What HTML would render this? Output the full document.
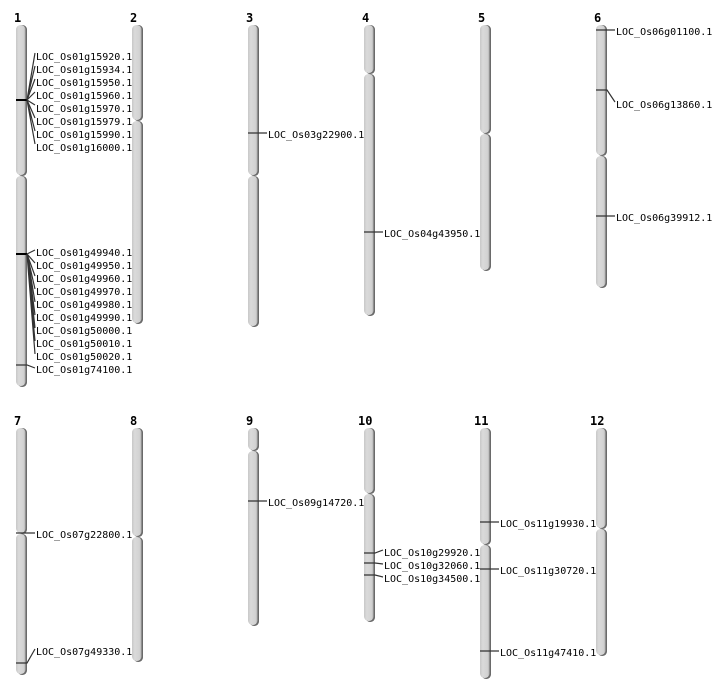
<!DOCTYPE html>
<html><head><meta charset="utf-8"><style>
html,body{margin:0;padding:0;background:#fff;}
svg{display:block;}
text{font-family:"DejaVu Sans Mono","Liberation Mono",monospace;font-size:10px;fill:#000;}
.n{font-family:"DejaVu Sans Mono",monospace;font-weight:bold;font-size:12px;}
.s{fill:#6a6a6a;}
.a{fill:url(#g);}
.m{stroke:#333;stroke-width:1.2;fill:none;}
.k{stroke:#000;stroke-width:2;fill:none;}
</style></head><body>
<svg width="712" height="700" viewBox="0 0 712 700" xmlns="http://www.w3.org/2000/svg">
<defs><linearGradient id="g" x1="0" x2="1" y1="0" y2="0">
<stop offset="0" stop-color="#c8c8c8"/><stop offset="0.3" stop-color="#dadada"/><stop offset="0.8" stop-color="#d2d2d2"/><stop offset="1" stop-color="#b0b0b0"/></linearGradient></defs>

<!-- numbers -->
<text class="n" x="14" y="22">1</text><text class="n" x="130" y="22">2</text><text class="n" x="246" y="22">3</text>
<text class="n" x="362" y="22">4</text><text class="n" x="478" y="22">5</text><text class="n" x="594" y="22">6</text>
<text class="n" x="14" y="425">7</text><text class="n" x="130" y="425">8</text><text class="n" x="246" y="425">9</text>
<text class="n" x="358" y="425">10</text><text class="n" x="474" y="425">11</text><text class="n" x="590" y="425">12</text>

<!-- chromosomes: shadow + arm -->
<g>
<!-- 1 -->
<rect class="s" x="17.5" y="25" width="9.5" height="151" rx="4.5"/><rect class="a" x="16" y="25" width="9.5" height="150" rx="4.5"/>
<rect class="s" x="17.5" y="176" width="9.5" height="211" rx="4.5"/><rect class="a" x="16" y="176" width="9.5" height="210" rx="4.5"/>
<!-- 2 -->
<rect class="s" x="133.5" y="25" width="9.5" height="96" rx="4.5"/><rect class="a" x="132" y="25" width="9.5" height="95" rx="4.5"/>
<rect class="s" x="133.5" y="121" width="9.5" height="203" rx="4.5"/><rect class="a" x="132" y="121" width="9.5" height="202" rx="4.5"/>
<!-- 3 -->
<rect class="s" x="249.5" y="25" width="9.5" height="151" rx="4.5"/><rect class="a" x="248" y="25" width="9.5" height="150" rx="4.5"/>
<rect class="s" x="249.5" y="176" width="9.5" height="151" rx="4.5"/><rect class="a" x="248" y="176" width="9.5" height="150" rx="4.5"/>
<!-- 4 -->
<rect class="s" x="365.5" y="25" width="9.5" height="49" rx="4.5"/><rect class="a" x="364" y="25" width="9.5" height="48" rx="4.5"/>
<rect class="s" x="365.5" y="74" width="9.5" height="242" rx="4.5"/><rect class="a" x="364" y="74" width="9.5" height="241" rx="4.5"/>
<!-- 5 -->
<rect class="s" x="481.5" y="25" width="9.5" height="109" rx="4.5"/><rect class="a" x="480" y="25" width="9.5" height="108" rx="4.5"/>
<rect class="s" x="481.5" y="134" width="9.5" height="137" rx="4.5"/><rect class="a" x="480" y="134" width="9.5" height="136" rx="4.5"/>
<!-- 6 -->
<rect class="s" x="597.5" y="25" width="9.5" height="131" rx="4.5"/><rect class="a" x="596" y="25" width="9.5" height="130" rx="4.5"/>
<rect class="s" x="597.5" y="156" width="9.5" height="132" rx="4.5"/><rect class="a" x="596" y="156" width="9.5" height="131" rx="4.5"/>
<!-- 7 -->
<rect class="s" x="17.5" y="428" width="9.5" height="106" rx="4.5"/><rect class="a" x="16" y="428" width="9.5" height="105" rx="4.5"/>
<rect class="s" x="17.5" y="534" width="9.5" height="141" rx="4.5"/><rect class="a" x="16" y="534" width="9.5" height="140" rx="4.5"/>
<!-- 8 -->
<rect class="s" x="133.5" y="428" width="9.5" height="109" rx="4.5"/><rect class="a" x="132" y="428" width="9.5" height="108" rx="4.5"/>
<rect class="s" x="133.5" y="537" width="9.5" height="125" rx="4.5"/><rect class="a" x="132" y="537" width="9.5" height="124" rx="4.5"/>
<!-- 9 -->
<rect class="s" x="249.5" y="428" width="9.5" height="23" rx="4.5"/><rect class="a" x="248" y="428" width="9.5" height="22" rx="4.5"/>
<rect class="s" x="249.5" y="451" width="9.5" height="175" rx="4.5"/><rect class="a" x="248" y="451" width="9.5" height="174" rx="4.5"/>
<!-- 10 -->
<rect class="s" x="365.5" y="428" width="9.5" height="66" rx="4.5"/><rect class="a" x="364" y="428" width="9.5" height="65" rx="4.5"/>
<rect class="s" x="365.5" y="494" width="9.5" height="128" rx="4.5"/><rect class="a" x="364" y="494" width="9.5" height="127" rx="4.5"/>
<!-- 11 -->
<rect class="s" x="481.5" y="428" width="9.5" height="117" rx="4.5"/><rect class="a" x="480" y="428" width="9.5" height="116" rx="4.5"/>
<rect class="s" x="481.5" y="545" width="9.5" height="134" rx="4.5"/><rect class="a" x="480" y="545" width="9.5" height="133" rx="4.5"/>
<!-- 12 -->
<rect class="s" x="597.5" y="428" width="9.5" height="101" rx="4.5"/><rect class="a" x="596" y="428" width="9.5" height="100" rx="4.5"/>
<rect class="s" x="597.5" y="529" width="9.5" height="127" rx="4.5"/><rect class="a" x="596" y="529" width="9.5" height="126" rx="4.5"/>
</g>

<!-- chr1 group 1 -->
<path class="k" d="M16 100H27"/>
<path class="m" d="M27 100L35 53M27 100L35 66M27 100L35 79M27 100L35 92M27 100L35 105M27 100L35 118M27 100L35 131M27 100L35 144"/>
<text x="36" y="60">LOC_Os01g15920.1</text><text x="36" y="73">LOC_Os01g15934.1</text>
<text x="36" y="86">LOC_Os01g15950.1</text><text x="36" y="99">LOC_Os01g15960.1</text>
<text x="36" y="112">LOC_Os01g15970.1</text><text x="36" y="125">LOC_Os01g15979.1</text>
<text x="36" y="138">LOC_Os01g15990.1</text><text x="36" y="151">LOC_Os01g16000.1</text>
<!-- chr1 group 2 -->
<path class="k" d="M16 254H27"/>
<path class="m" d="M27 254L35 250M27 254L35 263M27 254L35 276M27 254L35 289M27 254L35 302M27 254L35 315M27 254L35 328M27 254L35 341M27 254L35 354"/>
<text x="36" y="256">LOC_Os01g49940.1</text><text x="36" y="269">LOC_Os01g49950.1</text>
<text x="36" y="282">LOC_Os01g49960.1</text><text x="36" y="295">LOC_Os01g49970.1</text>
<text x="36" y="308">LOC_Os01g49980.1</text><text x="36" y="321">LOC_Os01g49990.1</text>
<text x="36" y="334">LOC_Os01g50000.1</text><text x="36" y="347">LOC_Os01g50010.1</text>
<text x="36" y="360">LOC_Os01g50020.1</text>
<path class="m" d="M16 365H27L35 368"/><text x="36" y="373">LOC_Os01g74100.1</text>

<!-- chr3 -->
<path class="m" d="M248 133H267"/><text x="268" y="138">LOC_Os03g22900.1</text>
<!-- chr4 -->
<path class="m" d="M364 232H383"/><text x="384" y="237">LOC_Os04g43950.1</text>
<!-- chr6 -->
<path class="m" d="M596 30H615"/><text x="616" y="35">LOC_Os06g01100.1</text>
<path class="m" d="M596 90H607L615 102"/><text x="616" y="108">LOC_Os06g13860.1</text>
<path class="m" d="M596 216H615"/><text x="616" y="221">LOC_Os06g39912.1</text>
<!-- chr7 -->
<path class="m" d="M16 533H35"/><text x="36" y="538">LOC_Os07g22800.1</text>
<path class="m" d="M16 663H27L35 649"/><text x="36" y="655">LOC_Os07g49330.1</text>
<!-- chr9 -->
<path class="m" d="M248 501H267"/><text x="268" y="506">LOC_Os09g14720.1</text>
<!-- chr10 -->
<path class="m" d="M364 553H375L383 550"/><text x="384" y="556">LOC_Os10g29920.1</text>
<path class="m" d="M364 563H375L383 564"/><text x="384" y="569">LOC_Os10g32060.1</text>
<path class="m" d="M364 575H375L383 577"/><text x="384" y="582">LOC_Os10g34500.1</text>
<!-- chr11 -->
<path class="m" d="M480 522H499"/><text x="500" y="527">LOC_Os11g19930.1</text>
<path class="m" d="M480 569H499"/><text x="500" y="574">LOC_Os11g30720.1</text>
<path class="m" d="M480 651H499"/><text x="500" y="656">LOC_Os11g47410.1</text>
</svg>
</body></html>
